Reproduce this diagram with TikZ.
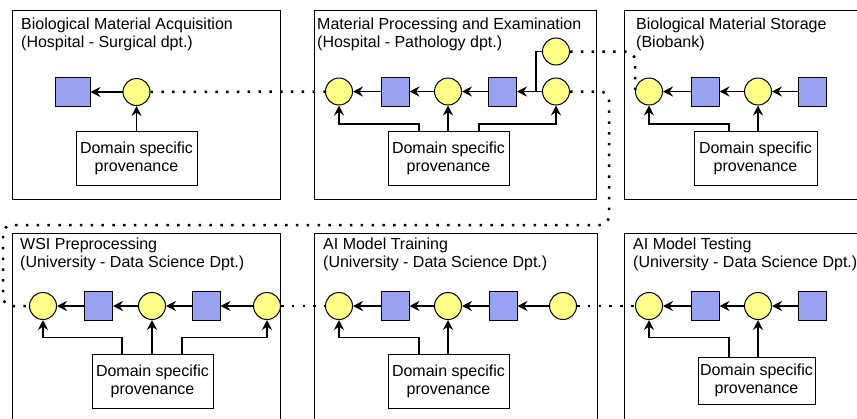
\documentclass[tikz,border=0pt]{standalone}
\usepackage{fontspec}
\setmainfont{Liberation Sans}
\usetikzlibrary{arrows.meta}

\definecolor{entfill}{RGB}{255,255,136}
\definecolor{actfill}{RGB}{153,163,242}

\begin{document}
\begin{tikzpicture}[x=1pt,y=-1pt,
  font=\fontsize{16}{18}\selectfont,
  stage/.style={draw=black,line width=1pt},
  entity/.style={circle,draw,line width=1pt,fill=entfill,minimum size=27pt,inner sep=0},
  activity/.style={draw,line width=1pt,fill=actfill,minimum width=28pt,minimum height=29pt,inner sep=0},
  prov/.style={draw,line width=1pt,fill=white,minimum width=121pt,minimum height=54pt,align=center,inner sep=0},
  title/.style={anchor=north west,align=left,inner sep=0},
  flow/.style={-{Stealth[length=10pt,width=10pt,inset=3.5pt]},line width=1.4pt},
  wire/.style={line width=1.4pt},
  link/.style={line width=2.5pt,dash pattern=on 2.5pt off 8.3pt,rounded corners=9pt},
]
\clip (0,0) rectangle (857,418);

% ---------- Biological Material Acquisition ----------
\draw[stage] (12,10) rectangle (280,199);
\node[title] (t1) at (21,17.5) {Biological Material Acquisition\\(Hospital - Surgical dpt.)};
\node[activity,minimum width=35pt] (s11) at (72.5,92) {};
\node[entity] (c11) at (136.5,92) {};
\node[prov] (d1) at (136.5,158.5) {Domain specific\\provenance};
\draw[flow] (c11) -- (s11);
\draw[flow] (d1) -- (c11);

% ---------- Material Processing and Examination ----------
\draw[stage] (314,10) rectangle (596,199);
\node[title] (t2) at (317,17.5) {Material Processing and Examination\\(Hospital - Pathology dpt.)};
\node[entity] (c21) at (339,91.5) {};
\node[activity] (s21) at (395,91.5) {};
\node[entity] (c22) at (448,91.5) {};
\node[activity] (s22) at (502.5,91.5) {};
\node[entity] (c23) at (556,91.5) {};
\node[entity] (c24) at (556,51.5) {};
\node[prov] (d2) at (448.5,158.5) {Domain specific\\provenance};
\coordinate (j2) at (536,91.5);
\draw[flow] (s21) -- (c21);
\draw[flow] (c22) -- (s21);
\draw[flow] (s22) -- (c22);
\draw[flow] (c23) -- (s22);
\draw[wire] (c24.west) -| (j2);
\draw[flow] ([xshift=-29.5pt]d2.north) -- ++(0,-7) -| (c21.south);
\draw[flow] (c22.south |- d2.north) -- (c22.south);
\draw[flow] ([xshift=30.5pt]d2.north) -- ++(0,-7) -| (c23.south);

% ---------- Biological Material Storage ----------
\draw[stage] (624,10) rectangle (880,199);
\node[title] (t3) at (636,17.5) {Biological Material Storage\\(Biobank)};
\node[entity] (c31) at (649,91.5) {};
\node[activity] (s31) at (705,91.5) {};
\node[entity] (c32) at (758,91.5) {};
\node[activity] (s32) at (812.5,91.5) {};
\node[prov,minimum width=123pt] (d3) at (755.5,158.5) {Domain specific\\provenance};
\draw[flow] (s31) -- (c31);
\draw[flow] (c32) -- (s31);
\draw[flow] (s32) -- (c32);
\draw[flow] ([xshift=-26.5pt]d3.north) -- ++(0,-7) -| (c31.south);
\draw[flow] (c32.south |- d3.north) -- (c32.south);

% ---------- WSI Preprocessing ----------
\draw[stage] (12,233) rectangle (280,430);
\node[title] (t4) at (20,237.5) {WSI Preprocessing\\(University - Data Science Dpt.)};
\node[entity] (c41) at (43,306) {};
\node[activity] (s41) at (98.5,306) {};
\node[entity] (c42) at (152,306) {};
\node[activity] (s42) at (206,306) {};
\node[entity] (c43) at (267,306) {};
\node[prov] (d4) at (152.5,381) {Domain specific\\provenance};
\draw[flow] (s41) -- (c41);
\draw[flow] (c42) -- (s41);
\draw[flow] (s42) -- (c42);
\draw[flow] (c43) -- (s42);
\draw[flow] ([xshift=-30.5pt]d4.north) -- ++(0,-16) -| (c41.south);
\draw[flow] (c42.south |- d4.north) -- (c42.south);
\draw[flow] ([xshift=29.5pt]d4.north) -- ++(0,-16) -| (c43.south);

% ---------- AI Model Training ----------
\draw[stage] (314,233) rectangle (597,430);
\node[title] (t5) at (323,237.5) {AI Model Training\\(University - Data Science Dpt.)};
\node[entity] (c51) at (339,306) {};
\node[activity] (s51) at (395,306) {};
\node[entity] (c52) at (448,306) {};
\node[activity] (s52) at (503,306) {};
\node[entity] (c53) at (563,306) {};
\node[prov] (d5) at (448.5,381) {Domain specific\\provenance};
\draw[flow] (s51) -- (c51);
\draw[flow] (c52) -- (s51);
\draw[flow] (s52) -- (c52);
\draw[flow] (c53) -- (s52);
\draw[flow] ([xshift=-29.5pt]d5.north) -- ++(0,-16) -| (c51.south);
\draw[flow] (c52.south |- d5.north) -- (c52.south);

% ---------- AI Model Testing ----------
\draw[stage] (624,233) rectangle (880,430);
\node[title] (t6) at (633,237.5) {AI Model Testing\\(University - Data Science Dpt.)};
\node[entity] (c61) at (649,306) {};
\node[activity] (s61) at (705,306) {};
\node[entity] (c62) at (758,306) {};
\node[activity] (s62) at (812.5,306) {};
\node[prov,minimum width=117pt,minimum height=47pt] (d6) at (756.5,380.5) {Domain specific\\provenance};
\draw[flow] (s61) -- (c61);
\draw[flow] (c62) -- (s61);
\draw[flow] (s62) -- (c62);
\draw[flow] ([xshift=-27.5pt]d6.north) -- ++(0,-19) -| (c61.south);
\draw[flow] (c62.south |- d6.north) -- (c62.south);

% ---------- links between stages ----------
\draw[link] (c11) -- (c21);
\draw[link] (c24.east) -| (c31.west);
\draw[link] (c23.east) -- (609,91.5) -- (609,225) -- (3,225) -- (3,306) -- (c41.west);
\draw[link] (c43) -- (c51);
\draw[link] (c53) -- (c61);
\end{tikzpicture}
\end{document}
